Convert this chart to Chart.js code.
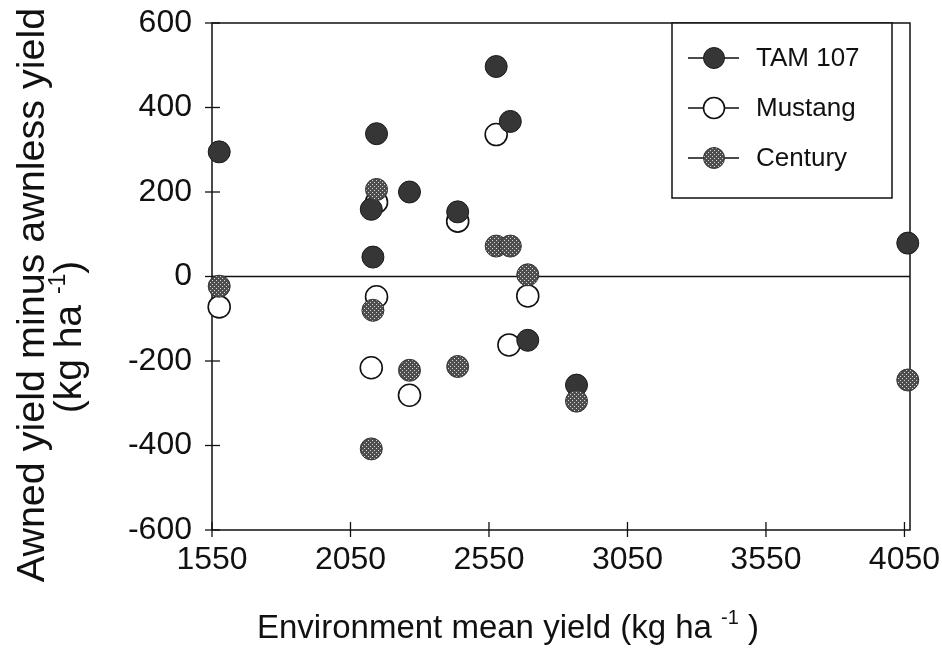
<!DOCTYPE html>
<html>
<head>
<meta charset="utf-8">
<script src="https://cdn.jsdelivr.net/npm/chart.js@4.4.0/dist/chart.umd.min.js"></script>
<style>
  html, body { margin: 0; padding: 0; background: #fff; }
  #wrap { width: 942px; height: 658px; }
</style>
</head>
<body>
<div id="wrap"><canvas id="chart" width="942" height="658"></canvas></div>
<script>
// ---- values (x = environment mean yield, y = awned - awnless) ----
const seriesNames = ['TAM 107', 'Mustang', 'Century'];

const tamX = [1576, 2125, 2131, 2144, 2263, 2437, 2576, 2627, 2690, 2866, 4062];
const tamY = [295, 159, 46, 338, 200, 153, 497, 367, -151, -257, 79];

const mustangX = [1576, 2125, 2144, 2144, 2263, 2437, 2576, 2622, 2690];
const mustangY = [-72, -216, 176, -48, -281, 131, 336, -162, -46];

const centuryX = [1576, 2125, 2131, 2144, 2263, 2437, 2576, 2627, 2690, 2866, 4062];
const centuryY = [-23, -408, -80, 206, -222, -213, 72, 72, 4, -295, -245];

const xTicks = [1550, 2050, 2550, 3050, 3550, 4050];
const yTicks = [-600, -400, -200, 0, 200, 400, 600];

const FONT = "'Liberation Sans', Arial, Helvetica, sans-serif";
const INK = '#111';

const toPoints = (xs, ys) => xs.map((x, i) => ({ x, y: ys[i] }));

// gray fill with a fine white dot screen, like the scanned "Century" symbol
function dotPattern() {
  const c = document.createElement('canvas');
  c.width = 4; c.height = 4;
  const g = c.getContext('2d');
  g.fillStyle = '#4e4e4e';
  g.fillRect(0, 0, 4, 4);
  g.fillStyle = '#d8d8d8';
  g.fillRect(0, 0, 1, 1);
  g.fillRect(2, 2, 1, 1);
  return g.createPattern(c, 'repeat');
}
const dots = dotPattern();

const styles = [
  { fill: '#363636', stroke: '#1a1a1a', width: 1 },
  { fill: '#ffffff', stroke: '#111111', width: 1.6 },
  { fill: dots, stroke: '#333333', width: 1 }
];

// ---- frame, zero line and crossing tick marks ----
const framePlugin = {
  id: 'frame',
  beforeDatasetsDraw(chart) {
    const { ctx, chartArea: a, scales: { x, y } } = chart;
    ctx.save();
    ctx.strokeStyle = INK;
    ctx.lineWidth = 1.5;
    ctx.strokeRect(a.left, a.top, a.right - a.left, a.bottom - a.top);
    const y0 = y.getPixelForValue(0);
    ctx.beginPath();
    ctx.moveTo(a.left, y0);
    ctx.lineTo(a.right, y0);
    ctx.stroke();
    ctx.lineWidth = 1.3;
    xTicks.forEach(v => {
      const px = x.getPixelForValue(v);
      ctx.beginPath();
      ctx.moveTo(px, a.bottom - 8);
      ctx.lineTo(px, a.bottom + 7);
      ctx.stroke();
    });
    yTicks.forEach(v => {
      const py = y.getPixelForValue(v);
      ctx.beginPath();
      ctx.moveTo(a.left - 7, py);
      ctx.lineTo(a.left + 8, py);
      ctx.stroke();
    });
    ctx.restore();
  }
};

// ---- boxed legend in the top-right corner ----
const legendPlugin = {
  id: 'boxLegend',
  afterDraw(chart) {
    const { ctx, chartArea: a } = chart;
    const box = { left: a.right - 238, top: a.top, w: 220, h: 175 };
    ctx.save();
    ctx.fillStyle = '#fff';
    ctx.fillRect(box.left, box.top, box.w, box.h);
    ctx.strokeStyle = INK;
    ctx.lineWidth = 1.5;
    ctx.strokeRect(box.left, box.top, box.w, box.h);
    seriesNames.forEach((name, i) => {
      const cy = box.top + 35 + i * 50;
      const cx = box.left + 42;
      const st = styles[i];
      ctx.strokeStyle = INK;
      ctx.lineWidth = 1.3;
      ctx.beginPath();
      ctx.moveTo(box.left + 16, cy);
      ctx.lineTo(box.left + 67, cy);
      ctx.stroke();
      ctx.beginPath();
      ctx.arc(cx, cy, 10.5, 0, Math.PI * 2);
      ctx.fillStyle = st.fill;
      ctx.fill();
      ctx.lineWidth = st.width;
      ctx.strokeStyle = st.stroke;
      ctx.stroke();
      ctx.fillStyle = INK;
      ctx.font = `26px ${FONT}`;
      ctx.textBaseline = 'middle';
      ctx.textAlign = 'left';
      ctx.fillText(name, box.left + 84, cy + 1);
    });
    ctx.restore();
  }
};

// text pieces: [text, isSuperscript]
function drawPieces(ctx, pieces, size, cx, baseY) {
  const supSize = Math.round(size * 0.6);
  const widths = pieces.map(([t, sup]) => {
    ctx.font = `${sup ? supSize : size}px ${FONT}`;
    return ctx.measureText(t).width;
  });
  let x = cx - widths.reduce((s, w) => s + w, 0) / 2;
  pieces.forEach(([t, sup], i) => {
    ctx.font = `${sup ? supSize : size}px ${FONT}`;
    ctx.fillText(t, x, sup ? baseY - size * 0.42 : baseY);
    x += widths[i];
  });
}

const titlesPlugin = {
  id: 'axisTitles',
  afterDraw(chart) {
    const { ctx } = chart;
    ctx.save();
    ctx.fillStyle = INK;
    ctx.textAlign = 'left';
    ctx.textBaseline = 'alphabetic';
    drawPieces(ctx, [['Environment mean yield (kg ha ', false], ['-1', true], [' )', false]], 33, 508, 638);
    ctx.translate(44, 295);
    ctx.rotate(-Math.PI / 2);
    drawPieces(ctx, [['Awned yield minus awnless yield', false]], 39.5, 0, 0);
    drawPieces(ctx, [['(kg ha ', false], ['-1', true], [')', false]], 39, -42, 37);
    ctx.restore();
  }
};

const tickFont = { family: FONT, size: 32 };

new Chart(document.getElementById('chart').getContext('2d'), {
  type: 'scatter',
  data: {
    datasets: [
      { label: seriesNames[0], data: toPoints(tamX, tamY), order: 1 },
      { label: seriesNames[1], data: toPoints(mustangX, mustangY), order: 2 },
      { label: seriesNames[2], data: toPoints(centuryX, centuryY), order: 0 }
    ].map((d, i) => ({
      ...d,
      backgroundColor: styles[i].fill,
      borderColor: styles[i].stroke,
      borderWidth: styles[i].width,
      pointRadius: 11,
      clip: false
    }))
  },
  options: {
    responsive: false,
    animation: false,
    events: [],
    layout: { padding: { top: 23, right: 32, left: 0, bottom: 0 } },
    plugins: { legend: { display: false }, tooltip: { enabled: false } },
    scales: {
      x: {
        type: 'linear',
        min: 1550,
        max: 4070,
        afterBuildTicks: s => { s.ticks = xTicks.map(v => ({ value: v })); },
        afterFit: s => { s.height = 128; s.paddingLeft = 0; s.paddingRight = 0; },
        grid: { display: false, drawTicks: false },
        border: { display: false },
        ticks: { font: tickFont, color: INK, padding: 11, maxRotation: 0, autoSkip: false, callback: v => String(v) }
      },
      y: {
        min: -600,
        max: 600,
        afterBuildTicks: s => { s.ticks = yTicks.map(v => ({ value: v })); },
        afterFit: s => { s.width = 212; s.paddingTop = 0; s.paddingBottom = 0; },
        grid: { display: false, drawTicks: false },
        border: { display: false },
        ticks: { font: tickFont, color: INK, padding: 20, autoSkip: false, callback: v => String(v) }
      }
    }
  },
  plugins: [framePlugin, legendPlugin, titlesPlugin]
});
</script>
</body>
</html>
